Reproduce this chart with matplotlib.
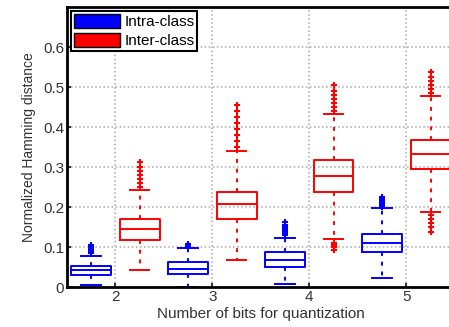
import matplotlib
matplotlib.use("Agg")
import matplotlib.pyplot as plt
from matplotlib.patches import Patch

bits = [2, 3, 4, 5]

# intra-class (blue) box statistics
intra_low = [0.005, 0.0, 0.0075, 0.024]
intra_q1 = [0.031, 0.034, 0.051, 0.087]
intra_med = [0.042, 0.046, 0.069, 0.111]
intra_q3 = [0.053, 0.062, 0.087, 0.134]
intra_high = [0.078, 0.099, 0.124, 0.197]
intra_out = [
    [0.085, 0.09, 0.095, 0.10, 0.105],
    [0.103, 0.106, 0.109],
    [0.13, 0.135, 0.14, 0.145, 0.15, 0.155, 0.163],
    [0.20, 0.205, 0.21, 0.215, 0.22, 0.226],
]

# inter-class (red) box statistics
inter_low = [0.0425, 0.067, 0.12, 0.187]
inter_q1 = [0.119, 0.17, 0.237, 0.295]
inter_med = [0.145, 0.2075, 0.278, 0.332]
inter_q3 = [0.17, 0.237, 0.319, 0.3675]
inter_high = [0.244, 0.341, 0.434, 0.4775]
inter_out = [
    [0.25, 0.26, 0.27, 0.28, 0.29, 0.30, 0.313],
    [0.35, 0.365, 0.38, 0.395, 0.41, 0.425, 0.44, 0.455],
    [0.44, 0.45, 0.46, 0.47, 0.48, 0.49, 0.505, 0.11, 0.105, 0.10, 0.0925],
    [0.485, 0.495, 0.505, 0.515, 0.525, 0.538, 0.18, 0.17, 0.16, 0.15, 0.138],
]


def make_stats(low, q1, med, q3, high, out):
    stats = []
    for i in range(len(low)):
        stats.append(dict(whislo=low[i], q1=q1[i], med=med[i], q3=q3[i],
                          whishi=high[i], fliers=out[i]))
    return stats


def draw(ax, stats, pos, col):
    ax.bxp(stats, positions=pos, widths=0.41, capwidths=0.2,
           boxprops=dict(color=col, lw=1.4),
           medianprops=dict(color=col, lw=1.4),
           whiskerprops=dict(color=col, lw=1.4, linestyle=(0, (2, 3))),
           capprops=dict(color=col, lw=1.4),
           flierprops=dict(marker='+', markeredgecolor=col, markersize=5, mew=1.5))


plt.rcParams['font.family'] = ['Liberation Sans', 'DejaVu Sans']
fig = plt.figure(figsize=(4.49, 3.27), dpi=100)
ax = fig.add_axes([0.149, 0.122, 0.864, 0.856])

draw(ax, make_stats(intra_low, intra_q1, intra_med, intra_q3, intra_high, intra_out),
     [b - 0.25 for b in bits], 'blue')
draw(ax, make_stats(inter_low, inter_q1, inter_med, inter_q3, inter_high, inter_out),
     [b + 0.25 for b in bits], 'red')

ax.set_xlim(1.5, 5.5)
ax.set_ylim(0, 0.7)
ax.set_xticks(bits)
ax.set_xticklabels([str(b) for b in bits], fontsize=11)
ax.set_yticks([0, 0.1, 0.2, 0.3, 0.4, 0.5, 0.6])
ax.set_yticklabels(['0', '0.1', '0.2', '0.3', '0.4', '0.5', '0.6'], fontsize=11)
ax.tick_params(direction='in', length=3, width=1.5, pad=2, colors='#333333')
ax.grid(True, linestyle=':', color='#a8a8a8', lw=1.1)
for s in ax.spines.values():
    s.set_linewidth(2)
    s.set_color('black')

ax.set_xlabel('Number of bits for quantization', fontsize=11, labelpad=2, color='#333333')
ax.set_ylabel('Normalized Hamming distance', fontsize=10, labelpad=5, color='#333333')

handles = [Patch(facecolor='blue', edgecolor='black', label='Intra-class'),
           Patch(facecolor='red', edgecolor='black', label='Inter-class')]
leg = ax.legend(handles=handles, loc='upper left', fontsize=11, frameon=True,
                fancybox=False, edgecolor='black', borderpad=0.2, labelspacing=0.25,
                handlelength=3.0, handleheight=1.0, handletextpad=0.3,
                borderaxespad=0.25, framealpha=1)
leg.get_frame().set_linewidth(1.5)

fig.savefig('out.png', dpi=100)
